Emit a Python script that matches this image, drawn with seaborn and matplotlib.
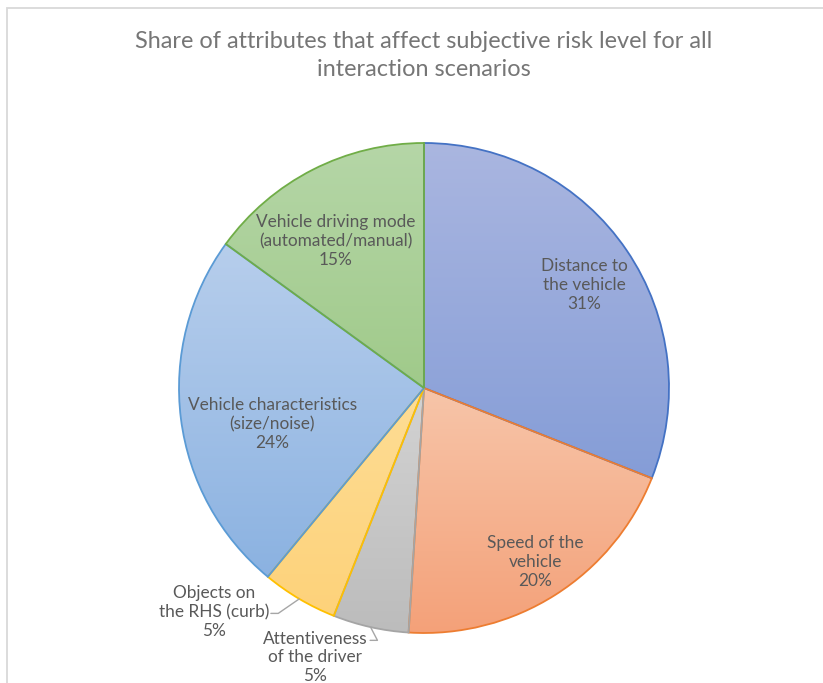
import matplotlib as mpl

mpl.use("Agg")

import matplotlib.pyplot as plt
import numpy as np
import seaborn as sns
from matplotlib.colors import LinearSegmentedColormap
from matplotlib.patches import Rectangle

sns.set_theme(style="white")
plt.rcParams["font.family"] = ["Lato", "DejaVu Sans"]

TITLE = "Share of attributes that affect subjective risk level for all\ninteraction scenarios"
LABELS = [
    "Distance to\nthe vehicle",
    "Speed of the\nvehicle",
    "Attentiveness\nof the driver",
    "Objects on\nthe RHS (curb)",
    "Vehicle characteristics\n(size/noise)",
    "Vehicle driving mode\n(automated/manual)",
]
SHARES = [31, 20, 5, 5, 24, 15]

# gradient top / bottom and outline colours (Excel office palette, gradient style)
TOP_COLORS = ["#AAB6E0", "#F7C5A9", "#D3D3D3", "#FEDD95", "#B7CEEC", "#B5D6A7"]
BOTTOM_COLORS = ["#859DD7", "#F4A179", "#BCBCBC", "#FDD27A", "#8BB2E1", "#A0CA8A"]
EDGE_COLORS = ["#4472C4", "#ED7D31", "#A5A5A5", "#FFC000", "#5B9BD5", "#70AD47"]

# label centre positions (in pie radius units) and optional leader start
LABEL_POS = [(0.655, 0.42), (0.455, -0.71), (-0.445, -1.10), (-0.855, -0.915), (-0.62, -0.147), (-0.36, 0.60)]
LEADER = [None, None, (-0.22, -1.03), (-0.625, -0.92), None, None]

W, H = 823, 683
CX, CY, R = 424, 388, 245

fig = plt.figure(figsize=(W / 100, H / 100), dpi=100)
ax = fig.add_axes([(CX - R) / W, (H - CY - R) / H, 2 * R / W, 2 * R / H])

wedges, _ = ax.pie(SHARES, startangle=90, counterclock=False, radius=1,
                   wedgeprops=dict(linewidth=1.3, zorder=3))
ax.set_aspect("equal")
ax.axis("off")

# vertical gradient fill per slice, clipped to the wedge
grad = np.linspace(0, 1, 256).reshape(-1, 1)
for i, w in enumerate(wedges):
    w.set_facecolor("none")
    w.set_edgecolor(EDGE_COLORS[i])
    ext = w.get_path().get_extents()
    cmap = LinearSegmentedColormap.from_list(f"g{i}", [TOP_COLORS[i], BOTTOM_COLORS[i]])
    im = ax.imshow(grad, cmap=cmap, aspect="auto", origin="upper",
                   extent=[ext.x0, ext.x1, ext.y0, ext.y1], zorder=2, interpolation="bilinear")
    im.set_clip_path(w)
ax.set_xlim(-1, 1)
ax.set_ylim(-1, 1)

pct = [f"{s}%" for s in SHARES]
for i, w in enumerate(wedges):
    x, y = LABEL_POS[i]
    ax.text(x, y, f"{LABELS[i]}\n{pct[i]}", ha="center", va="center", fontsize=12.4,
            color="#595959", linespacing=1.22, zorder=5)
    if LEADER[i] is not None:
        mid = np.deg2rad((w.theta1 + w.theta2) / 2)
        ex, ey = np.cos(mid), np.sin(mid)
        lx, ly = LEADER[i]
        ax.plot([lx, lx + 0.03, ex], [ly, ly, ey], color="#A6A6A6", lw=1.0, zorder=4, clip_on=False)

fig.text(CX / W, 1 - 55.5 / H, TITLE, ha="center", va="center", fontsize=16.9, color="#767676",
         linespacing=1.38)

fig.add_artist(Rectangle((7 / W, -0.1), 2, (H - 8) / H + 0.1, transform=fig.transFigure,
                         fill=False, edgecolor="#D9D9D9", linewidth=1.3))

fig.savefig("out.png", dpi=100)
